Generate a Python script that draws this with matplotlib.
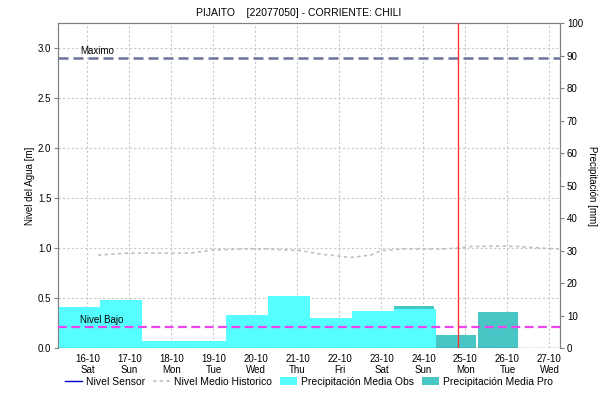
from datetime import datetime, timedelta

import matplotlib.pyplot as plt
from matplotlib.lines import Line2D
from matplotlib.patches import Patch

plt.rcParams["font.family"] = ["Liberation Sans", "DejaVu Sans"]

# Datos
dias_obs = ["2018-10-15", "2018-10-16", "2018-10-17", "2018-10-18", "2018-10-19",
            "2018-10-20", "2018-10-21", "2018-10-22", "2018-10-23"]
precip_obs = [12.7, 14.8, 2.2, 2.2, 10.2, 16.1, 9.2, 11.4, 12.0]  # mm

dias_pro = ["2018-10-23", "2018-10-24", "2018-10-25"]
precip_pro = [12.9, 4.0, 11.1]  # mm

hist_tiempo = ["2018-10-16 06:00", "2018-10-17 00:00", "2018-10-17 18:00", "2018-10-18 11:00",
               "2018-10-19 00:00", "2018-10-19 15:00", "2018-10-20 08:00", "2018-10-21 02:00",
               "2018-10-21 13:00", "2018-10-21 21:00", "2018-10-22 06:00", "2018-10-22 18:00",
               "2018-10-23 00:00", "2018-10-23 11:00", "2018-10-24 10:00", "2018-10-24 20:00",
               "2018-10-25 03:00", "2018-10-25 20:00", "2018-10-26 07:00", "2018-10-26 19:00",
               "2018-10-27 06:00"]
hist_nivel = [0.93, 0.95, 0.95, 0.95, 0.98, 0.99, 0.99, 0.975, 0.94, 0.925, 0.905, 0.93,
              0.975, 0.99, 0.99, 1.0, 1.015, 1.02, 1.015, 1.0, 0.99]

nivel_maximo = 2.9
nivel_bajo = 0.21
ahora = "2018-10-24 20:00"

ticks_dias = ["2018-10-%02d" % d for d in range(16, 28)]
dias_semana = ["Sat", "Sun", "Mon", "Tue", "Wed", "Thu", "Fri", "Sat", "Sun", "Mon", "Tue", "Wed"]

COLOR_OBS = "#55ffff"
COLOR_PRO = "#48c6c6"
GRIS = "#808080"


def a_fecha(s):
    fmt = "%Y-%m-%d %H:%M" if " " in s else "%Y-%m-%d"
    return datetime.strptime(s, fmt)


fig = plt.figure(figsize=(6, 4.01), dpi=100)
pos = [0.0972, 0.1322, 0.836, 0.8098]
ax = fig.add_axes(pos)          # ejes, etiquetas y grilla
ax2 = ax.twinx()                # precipitacion
ax3 = fig.add_axes(pos, sharex=ax, sharey=ax)  # lineas de nivel por encima de las barras
ax.set_zorder(1)
ax2.set_zorder(2)
ax3.set_zorder(3)
ax2.patch.set_visible(False)
ax3.patch.set_visible(False)
ax3.axis("off")

# Barras de precipitacion (dia hidrologico de 07:00 a 07:00)
inicio_pro = [a_fecha(d) + timedelta(hours=7) for d in dias_pro]
ax2.bar(inicio_pro, precip_pro, width=0.97, align="edge", color=COLOR_PRO, linewidth=0, zorder=1)
inicio_obs = [a_fecha(d) + timedelta(hours=7) for d in dias_obs]
ax2.bar(inicio_obs, precip_obs, width=1.0, align="edge", color=COLOR_OBS, linewidth=0, zorder=2)
ax2.set_ylim(0, 100)
ax2.set_yticks(range(0, 101, 10))

# Niveles
ax3.plot([a_fecha(t) for t in hist_tiempo], hist_nivel, color="#c0c0c0", lw=1.2,
         linestyle=(0, (2, 2)))
ax3.axhline(nivel_maximo, color="#6b7399", lw=1.8, linestyle=(0, (4, 2)))
ax3.axhline(nivel_bajo, color="#ee44ee", lw=1.6, linestyle=(0, (4, 2)))
ax3.axvline(a_fecha(ahora), color="#ff3333", lw=1.0)
ax3.axhline(0, color="black", lw=0.9, linestyle=(0, (1, 1)))

x0 = datetime(2018, 10, 15, 7, 20)
x1 = datetime(2018, 10, 27, 6, 0)
ax.set_xlim(x0, x1)
ax.set_ylim(0, 3.25)
ax.set_yticks([0, 0.5, 1.0, 1.5, 2.0, 2.5, 3.0])
ax.yaxis.set_major_formatter(plt.FormatStrFormatter("%.1f"))

ax3.text(datetime(2018, 10, 15, 20, 0), nivel_maximo + 0.02, "Maximo", fontsize=7, va="bottom")
ax3.text(datetime(2018, 10, 15, 20, 0), nivel_bajo + 0.02, "Nivel Bajo", fontsize=7, va="bottom")

ax.set_xticks([a_fecha(d) for d in ticks_dias])
ax.set_xticklabels(["%s\n%s" % (a_fecha(d).strftime("%d-%m"), w)
                    for d, w in zip(ticks_dias, dias_semana)])
ax.grid(True, color="#c8c8c8", linestyle=(0, (2, 2)), lw=0.8)

for a in (ax, ax2):
    a.tick_params(labelsize=7, length=3, width=0.8, color=GRIS, pad=2)
    for s in a.spines.values():
        s.set_color(GRIS)
for a in (ax, ax2):
    a.spines["bottom"].set_visible(False)
ax.tick_params(axis="x", length=0, pad=4)

ax.set_ylabel("Nivel del Agua [m]", fontsize=7, labelpad=2)
ax2.set_ylabel("Precipitación [mm]", fontsize=7, rotation=270, labelpad=10)

fig.text(0.497, 0.968, "PIJAITO    [22077050] - CORRIENTE: CHILI", ha="center", va="center", fontsize=7.5)

handles = [
    Line2D([], [], color="#0000cc", lw=1),
    Line2D([], [], color="#c0c0c0", lw=1.2, linestyle=(0, (2, 2))),
    Patch(facecolor=COLOR_OBS),
    Patch(facecolor=COLOR_PRO),
]
labels = ["Nivel Sensor", "Nivel Medio Historico", "Precipitación Media Obs", "Precipitación Media Pro"]
fig.legend(handles, labels, loc="center", bbox_to_anchor=(0.515, 0.048), ncol=4, frameon=False,
           fontsize=7.5, handlelength=1.6, handletextpad=0.4, columnspacing=0.8, handleheight=0.9)

fig.savefig("out.png", dpi=100)
